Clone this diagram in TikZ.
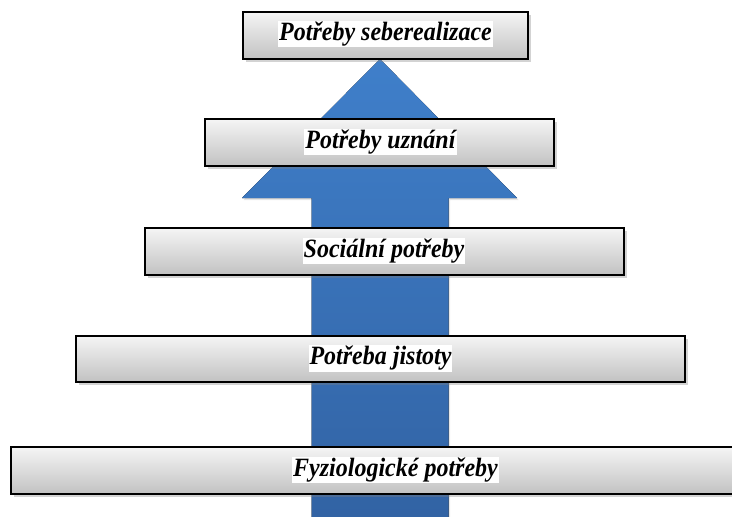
\documentclass[tikz,border=0pt]{standalone}
\usepackage{fontspec}
\setmainfont{Liberation Serif}
\usetikzlibrary{shadows}

\definecolor{arrowtop}{RGB}{63,127,202}
\definecolor{arrowbot}{RGB}{50,99,164}
\newcommand{\need}[1]{{\setlength{\fboxsep}{1pt}\colorbox{white}{\scalebox{1}[1.1]{\bfseries\itshape #1}}}}

\begin{document}
\begin{tikzpicture}
[x=1pt,y=-1pt,%
  level/.style={draw=black,line width=1.5pt,top color=white!96!black,bottom color=black!24,%
    drop shadow={shadow xshift=2.5pt,shadow yshift=-3pt,opacity=0.35}},%
  needtext/.style={inner sep=0pt,font=\fontsize{24}{27}\selectfont}]
\useasboundingbox (0,0) rectangle (732,517);
% arrow behind the levels
\fill[top color=arrowtop,bottom color=arrowbot,%
  drop shadow={shadow xshift=1.5pt,shadow yshift=-2pt,opacity=0.2}]
  (380,59) -- (517,198) -- (448.5,198) -- (448.5,517)
  -- (311.5,517) -- (311.5,198) -- (242,198) -- cycle;
% levels
\draw[level] (11,447) rectangle (734,494);
\draw[level] (76,336) rectangle (685,382);
\draw[level] (145,228) rectangle (624,275);
\draw[level] (205,119) rectangle (554,166);
\draw[level] (243,12) rectangle (528,59);
% labels
\node[needtext] (fyz) at (395.5,470) {\need{Fyziologické potřeby}};
\node[needtext] (jis) at (380.5,358.5) {\need{Potřeba jistoty}};
\node[needtext] (soc) at (384,251) {\need{Sociální potřeby}};
\node[needtext] (uzn) at (380.5,142) {\need{Potřeby uznání}};
\node[needtext] (seb) at (385.5,34) {\need{Potřeby seberealizace}};
\end{tikzpicture}
\end{document}
